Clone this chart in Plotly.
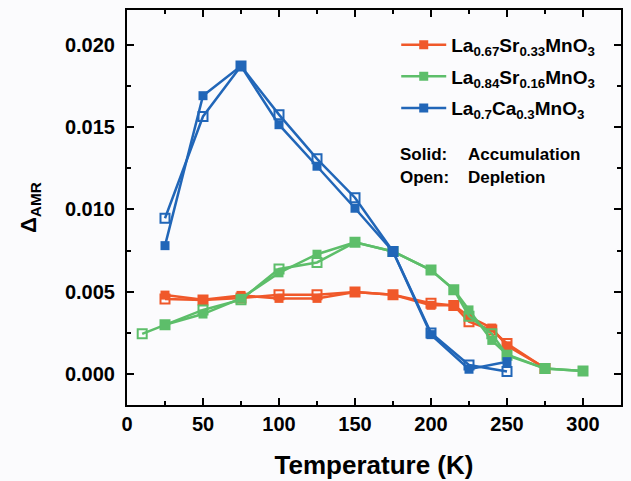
import plotly.graph_objects as go

# Data
red_T = [25, 50, 75, 100, 125, 150, 175, 200, 215, 225, 240, 250, 275]
red_acc = [0.00480, 0.00452, 0.00478, 0.00460, 0.00460, 0.00498, 0.00482, 0.00418, 0.00418, 0.00350, 0.00280, 0.00172, 0.00038]
red_dep = [0.00457, 0.00450, 0.00462, 0.00482, 0.00482, 0.00498, 0.00482, 0.00430, 0.00417, 0.00318, 0.00268, 0.00186, 0.00035]

green_acc_T = [25, 50, 75, 100, 125, 150, 175, 200, 215, 225, 240, 250, 275, 300]
green_acc = [0.00300, 0.00365, 0.00460, 0.00615, 0.00728, 0.00800, 0.00745, 0.00632, 0.00513, 0.00390, 0.00205, 0.00120, 0.00034, 0.00020]
green_dep_T = [10, 25, 50, 75, 100, 125, 150, 175, 200, 215, 225, 240, 250, 275, 300]
green_dep = [0.00245, 0.00300, 0.00390, 0.00452, 0.00638, 0.00678, 0.00800, 0.00745, 0.00632, 0.00513, 0.00352, 0.00245, 0.00115, 0.00034, 0.00020]

blue_T = [25, 50, 75, 100, 125, 150, 175, 200, 225, 250]
blue_acc = [0.00780, 0.01690, 0.01870, 0.01514, 0.01262, 0.01007, 0.00745, 0.00240, 0.00030, 0.00076]
blue_dep = [0.00946, 0.01564, 0.01870, 0.01575, 0.01307, 0.01071, 0.00745, 0.00250, 0.00056, 0.00016]

names = ["La<sub>0.67</sub>Sr<sub>0.33</sub>MnO<sub>3</sub>",
         "La<sub>0.84</sub>Sr<sub>0.16</sub>MnO<sub>3</sub>",
         "La<sub>0.7</sub>Ca<sub>0.3</sub>MnO<sub>3</sub>"]
colors = ["#F0582A", "#5DBE6A", "#2166B8"]

x_ticks = [0, 50, 100, 150, 200, 250, 300]
y_ticks = [0.000, 0.005, 0.010, 0.015, 0.020]

FONT = "Liberation Sans, Arial, sans-serif"

fig = go.Figure()
series = [
    (red_T, red_acc, red_T, red_dep),
    (green_acc_T, green_acc, green_dep_T, green_dep),
    (blue_T, blue_acc, blue_T, blue_dep),
]
for i, ((ta, va, td, vd), name, c) in enumerate(zip(series, names, colors)):
    fig.add_trace(go.Scatter(x=td, y=vd, mode="lines+markers", showlegend=False,
                             legendgroup=f"g{i}",
                             line=dict(color=c, width=2.5),
                             marker=dict(symbol="square-open", size=9, color=c, line=dict(width=2, color=c))))
    fig.add_trace(go.Scatter(x=ta, y=va, mode="lines+markers", name=name,
                             legendgroup=f"g{i}",
                             line=dict(color=c, width=2.5),
                             marker=dict(symbol="square", size=9, color=c)))

axis_common = dict(showline=True, linecolor="black", linewidth=2, mirror="ticks",
                   ticks="inside", ticklen=7, tickwidth=2, tickcolor="black",
                   showgrid=False, zeroline=False, automargin=False,
                   tickfont=dict(family=FONT, size=20, color="black", weight="bold"))

fig.update_xaxes(range=[0, 325], tickvals=x_ticks,
                 minor=dict(dtick=25, ticks="inside", ticklen=4, tickwidth=2, tickcolor="black"),
                 title=dict(text="<b>Temperature (K)</b>", font=dict(family=FONT, size=26, color="black"), standoff=22),
                 **axis_common)
fig.update_yaxes(range=[-0.00187, 0.0221], tickvals=y_ticks, tickformat=".3f",
                 minor=dict(dtick=0.0025, ticks="inside", ticklen=4, tickwidth=2, tickcolor="black"),
                 title=dict(text="<b>Δ<sub>AMR</sub></b>", font=dict(family=FONT, size=22, color="black"), standoff=22),
                 ticklabelstandoff=6,
                 **axis_common)

fig.update_layout(
    width=631, height=481,
    margin=dict(l=127, r=10, t=10, b=76),
    paper_bgcolor="#FBFBFD", plot_bgcolor="#FBFBFD",
    legend=dict(x=0.545, y=0.96, xanchor="left", yanchor="top",
                bgcolor="rgba(0,0,0,0)", tracegroupgap=4, traceorder="grouped",
                itemwidth=45,
                font=dict(family=FONT, size=19, color="black", weight="bold")),
    annotations=[
        dict(x=0.548, y=0.634, xref="paper", yref="paper", xanchor="left", yanchor="middle",
             text="<b>Solid:</b>", showarrow=False,
             font=dict(family=FONT, size=17, color="black")),
        dict(x=0.686, y=0.634, xref="paper", yref="paper", xanchor="left", yanchor="middle",
             text="<b>Accumulation</b>", showarrow=False,
             font=dict(family=FONT, size=17, color="black")),
        dict(x=0.548, y=0.576, xref="paper", yref="paper", xanchor="left", yanchor="middle",
             text="<b>Open:</b>", showarrow=False,
             font=dict(family=FONT, size=17, color="black")),
        dict(x=0.686, y=0.576, xref="paper", yref="paper", xanchor="left", yanchor="middle",
             text="<b>Depletion</b>", showarrow=False,
             font=dict(family=FONT, size=17, color="black")),
    ],
)

fig.write_html("out.html")
